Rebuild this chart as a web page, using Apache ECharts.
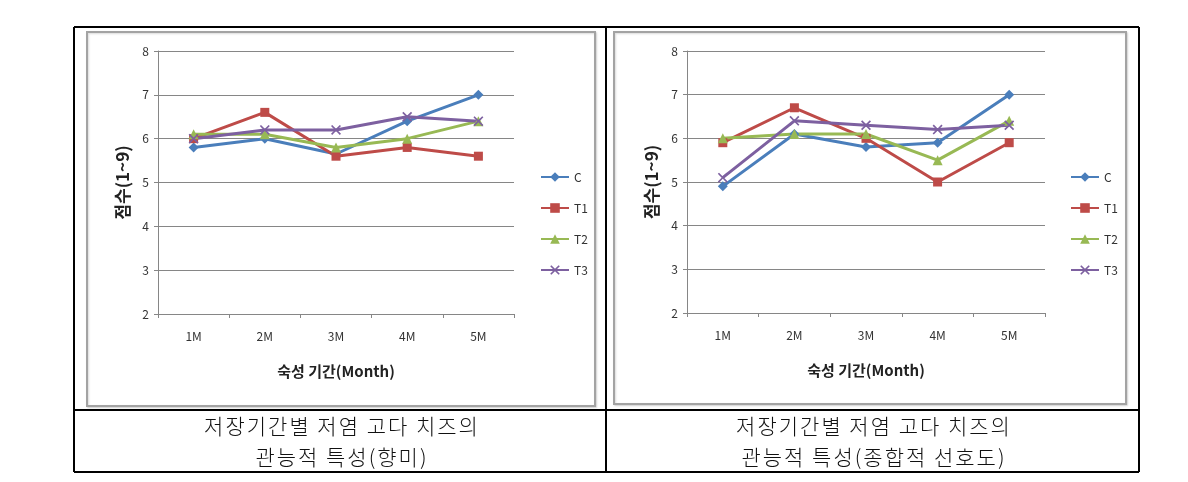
<!DOCTYPE html>
<html><head><meta charset="utf-8">
<script src="https://cdn.jsdelivr.net/npm/echarts@6/dist/echarts.min.js"></script>
<style>
html,body{margin:0;padding:0;background:#fff}
#wrap{position:relative;width:1188px;height:482px}
#c{width:1188px;height:482px}
.cap{position:absolute;width:532px;text-align:center;font-family:"Noto Sans CJK KR","Noto Sans",sans-serif;font-size:21px;letter-spacing:2px;color:#111;line-height:31px;font-weight:300}
</style>
</head><body><div id="wrap"><div id="c"></div>
<div class="cap" id="capL" style="left:76px;top:410px"></div>
<div class="cap" id="capR" style="left:608px;top:410px"></div>
</div>
<script>
const categories = ['1M','2M','3M','4M','5M'];
const seriesNames = ['C','T1','T2','T3'];
// Left chart: 향미
const leftC  = [5.8, 6.0, 5.65, 6.4, 7.0];
const leftT1 = [6.0, 6.6, 5.6, 5.8, 5.6];
const leftT2 = [6.1, 6.1, 5.8, 6.0, 6.4];
const leftT3 = [6.0, 6.2, 6.2, 6.5, 6.4];
// Right chart: 종합적 선호도
const rightC  = [4.9, 6.1, 5.8, 5.9, 7.0];
const rightT1 = [5.9, 6.7, 6.0, 5.0, 5.9];
const rightT2 = [6.0, 6.1, 6.1, 5.5, 6.4];
const rightT3 = [5.1, 6.4, 6.3, 6.2, 6.3];
const yTicks = [2,3,4,5,6,7,8];
const yTitle = '점수(1~9)';
const xTitle = '숙성 기간(Month)';
const captionLeft = ['저장기간별 저염 고다 치즈의', '관능적 특성(향미)'];
const captionRight = ['저장기간별 저염 고다 치즈의', '관능적 특성(종합적 선호도)'];

document.getElementById('capL').innerHTML = captionLeft.join('<br>');
document.getElementById('capR').innerHTML = captionRight.join('<br>');

const colors = ['#4A7EBB', '#BE4B48', '#98B954', '#7D60A0'];
const xPath = 'path://M0,1.2L1.2,0L5,3.8L8.8,0L10,1.2L6.2,5L10,8.8L8.8,10L5,6.2L1.2,10L0,8.8L3.8,5Z';
const symbols = ['diamond', 'rect', 'triangle', xPath];
const symSizes = [10, 9, 10, 10];
const font = '"Noto Sans CJK KR", "Noto Sans", sans-serif';

const chart = echarts.init(document.getElementById('c'), null, {renderer: 'canvas'});

function mkX(gi) {
  return {
    type: 'category', gridIndex: gi, data: categories, boundaryGap: true,
    axisLine: {lineStyle: {color: '#868686', width: 1}},
    axisTick: {show: true, length: 4, lineStyle: {color: '#868686'}},
    axisLabel: {fontSize: 12, color: '#333', margin: 16, fontFamily: font},
    name: xTitle, nameLocation: 'middle', nameGap: 50,
    nameTextStyle: {fontSize: 15, fontWeight: 'bold', color: '#222', fontFamily: font}
  };
}
function mkY(gi) {
  return {
    type: 'value', gridIndex: gi, min: yTicks[0], max: yTicks[yTicks.length-1], interval: 1,
    axisLine: {show: true, lineStyle: {color: '#868686', width: 1}},
    axisTick: {show: true, length: 4, lineStyle: {color: '#868686'}},
    splitLine: {show: true, lineStyle: {color: '#868686', width: 1}},
    axisLabel: {fontSize: 12, color: '#333', margin: 9, fontFamily: font},
    name: yTitle, nameLocation: 'middle', nameGap: 27, nameRotate: 90,
    nameTextStyle: {fontSize: 17, fontWeight: 'bold', color: '#222', fontFamily: font}
  };
}
function mkSeries(gi, arrs) {
  return arrs.map((d, i) => ({
    type: 'line', name: seriesNames[i], xAxisIndex: gi, yAxisIndex: gi, data: d,
    symbol: symbols[i], symbolSize: symSizes[i], showAllSymbol: true,
    lineStyle: {color: colors[i], width: 3},
    itemStyle: {color: colors[i]},
    emphasis: {disabled: true}, animation: false
  }));
}
function mkLegend(left) {
  return {
    orient: 'vertical', left: left, top: 166, itemWidth: 28, itemHeight: 12, itemGap: 19,
    data: seriesNames, textStyle: {fontSize: 12, color: '#333', fontFamily: font},
    selectedMode: false
  };
}

const lineStyleBlack = {stroke: '#000', lineWidth: 2};
const graphics = [
  {type: 'rect', shape: {x: 87, y: 32, width: 508, height: 374}, style: {fill: '#fff', stroke: '#a3a3a3', lineWidth: 2, shadowColor: 'rgba(0,0,0,0.15)', shadowBlur: 2, shadowOffsetX: 1, shadowOffsetY: 1}, z: -10},
  {type: 'rect', shape: {x: 614, y: 32, width: 512, height: 372}, style: {fill: '#fff', stroke: '#a3a3a3', lineWidth: 2, shadowColor: 'rgba(0,0,0,0.15)', shadowBlur: 2, shadowOffsetX: 1, shadowOffsetY: 1}, z: -10},
  {type: 'line', shape: {x1: 74, y1: 27, x2: 1139, y2: 27}, style: lineStyleBlack},
  {type: 'line', shape: {x1: 74, y1: 472, x2: 1139, y2: 472}, style: lineStyleBlack},
  {type: 'line', shape: {x1: 74, y1: 27, x2: 74, y2: 472}, style: lineStyleBlack},
  {type: 'line', shape: {x1: 1139, y1: 27, x2: 1139, y2: 472}, style: lineStyleBlack},
  {type: 'line', shape: {x1: 606, y1: 27, x2: 606, y2: 472}, style: lineStyleBlack},
  {type: 'line', shape: {x1: 74, y1: 410, x2: 1139, y2: 410}, style: lineStyleBlack}
];

chart.setOption({
  animation: false,
  color: colors,
  grid: [
    {left: 158, top: 51, width: 356, height: 263},
    {left: 687, top: 51, width: 358, height: 262}
  ],
  xAxis: [mkX(0), mkX(1)],
  yAxis: [mkY(0), mkY(1)],
  legend: [mkLegend(535), mkLegend(1065)],
  graphic: graphics,
  series: mkSeries(0, [leftC, leftT1, leftT2, leftT3]).concat(mkSeries(1, [rightC, rightT1, rightT2, rightT3]))
});
</script></body></html>
